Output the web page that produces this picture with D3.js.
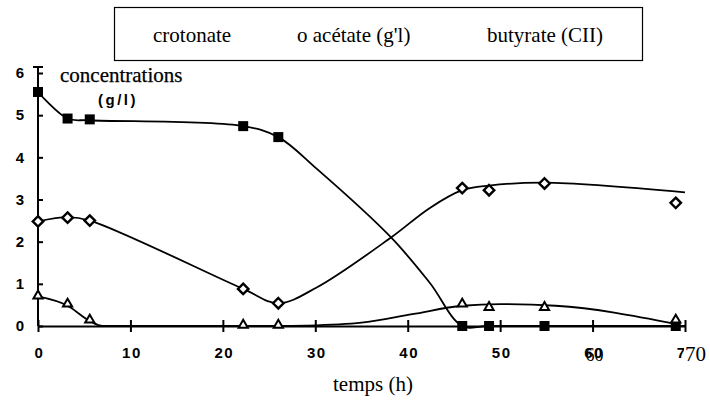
<!DOCTYPE html>
<html>
<head>
<meta charset="utf-8">
<script src="https://cdn.jsdelivr.net/npm/d3@7"></script>
<style>
  html, body { margin: 0; padding: 0; background: #fff; }
  svg { display: block; }
</style>
</head>
<body>
<svg id="chart" width="710" height="400"></svg>
<script>
// ---- data ----
const legendLabels = ["crotonate", "o acétate (g'l)", "butyrate (CII)"];
const xTicks = [0, 10, 20, 30, 40, 50, 60, 70];
const yTicks = [0, 1, 2, 3, 4, 5, 6];

const times = [0, 3.2, 5.6, 22.2, 26, 45.9, 48.8, 54.8, 69];
const crotonate = [5.55, 4.92, 4.9, 4.74, 4.48, 0, 0, 0, 0];
const acetate   = [2.48, 2.57, 2.5, 0.88, 0.54, 3.27, 3.22, 3.38, 2.92];
const butyrate  = [0.69, 0.5, 0.12, 0, 0, 0.5, 0.42, 0.42, 0.12];

// fitted curves drawn through the points (knots)
const crotonateFitX = [0, 3.2, 5.6, 22.2, 26, 30.2, 38.2, 42.4, 45.9, 48.8, 70];
const crotonateFitY = [5.55, 4.92, 4.88, 4.74, 4.48, 3.72, 2.1, 1.02, 0, 0, 0];
const acetateFitX = [0, 3.2, 5.6, 22.2, 26, 30.2, 38.2, 42.4, 45.9, 48.8, 54.8, 70];
const acetateFitY = [2.48, 2.58, 2.5, 0.88, 0.54, 0.92, 2.1, 2.8, 3.22, 3.33, 3.4, 3.17];
const butyrateFitX = [0, 3.2, 5.6, 7, 26, 29, 35, 40.5, 45.9, 50, 56, 69];
const butyrateFitY = [0.7, 0.48, 0.12, 0, 0, 0.01, 0.08, 0.28, 0.48, 0.52, 0.48, 0.05];

// ---- drawing ----
const svg = d3.select("#chart");
const x = d3.scaleLinear().domain([0, 70]).range([38, 685]);
const y = d3.scaleLinear().domain([0, 6]).range([326, 73]);
const serif = "Liberation Serif, Times New Roman, serif";
const sans = "Liberation Sans, Arial, sans-serif";

// legend box
svg.append("rect").attr("x", 114.5).attr("y", 7.5).attr("width", 528).attr("height", 53)
  .attr("fill", "#fff").attr("stroke", "#000").attr("stroke-width", 1.2);
const legX = [153, 297, 487];
legendLabels.forEach((t, i) => {
  svg.append("text").attr("x", legX[i]).attr("y", 42)
    .attr("font-family", serif).attr("font-size", 21).text(t);
});

// axes
const gx = svg.append("g").attr("transform", `translate(0,${y(0)})`)
  .call(d3.axisBottom(x).tickValues(xTicks).tickFormat(d3.format("d"))
    .tickSize(6).tickSizeOuter(0).tickPadding(15));
gx.select(".domain").attr("stroke-width", 2);
gx.selectAll(".tick line").attr("y1", -6).attr("stroke-width", 2);
gx.selectAll(".tick text").attr("font-family", sans)
  .attr("font-weight", "bold").attr("font-size", 15).attr("letter-spacing", 1.5).attr("dx", 1);

const gy = svg.append("g").attr("transform", `translate(${x(0)},0)`)
  .call(d3.axisLeft(y).tickValues(yTicks).tickFormat(d3.format("d"))
    .tickSize(5).tickSizeOuter(0).tickPadding(9));
gy.select(".domain").attr("stroke-width", 2).attr("d", `M0,${y(0)}V${y(6) - 6}`);
gy.selectAll(".tick line").attr("x2", 5).attr("stroke-width", 2);
gy.selectAll(".tick text").attr("font-family", sans)
  .attr("font-weight", "bold").attr("font-size", 15);
// cap at top of y axis
svg.append("line").attr("x1", x(0) - 5).attr("x2", x(0) + 5)
  .attr("y1", y(6) - 6).attr("y2", y(6) - 6).attr("stroke", "#000").attr("stroke-width", 2);

// fitted lines
const lineCR = d3.line().x(d => x(d[0])).y(d => y(d[1])).curve(d3.curveCatmullRom.alpha(0.5));
const lineMono = d3.line().x(d => x(d[0])).y(d => y(d[1])).curve(d3.curveMonotoneX);
const fits = [
  [crotonateFitX, crotonateFitY, lineCR],
  [acetateFitX, acetateFitY, lineCR],
  [butyrateFitX, butyrateFitY, lineMono]
];
fits.forEach(([xs, ys, gen]) => {
  svg.append("path").datum(xs.map((v, i) => [v, ys[i]]))
    .attr("d", gen).attr("fill", "none").attr("stroke", "#000").attr("stroke-width", 1.8);
});

// markers
svg.append("g").selectAll("rect").data(times.map((t, i) => [t, crotonate[i]])).join("rect")
  .attr("x", d => x(d[0]) - 5).attr("y", d => y(d[1]) - 5)
  .attr("width", 10).attr("height", 10).attr("fill", "#000");

const diamond = d3.symbol().type(d3.symbolDiamond2).size(70);
svg.append("g").selectAll("path").data(times.map((t, i) => [t, acetate[i]])).join("path")
  .attr("transform", d => `translate(${x(d[0])},${y(d[1])})`)
  .attr("d", diamond).attr("fill", "#fff").attr("stroke", "#000").attr("stroke-width", 2.4);

const tri = d3.symbol().type(d3.symbolTriangle2).size(60);
svg.append("g").selectAll("path").data(times.map((t, i) => [t, butyrate[i]])).join("path")
  .attr("transform", d => `translate(${x(d[0])},${y(d[1]) - 1})`)
  .attr("d", tri).attr("fill", "#fff").attr("stroke", "#000").attr("stroke-width", 2);

// overlaid labels
svg.append("text").attr("x", 60).attr("y", 82)
  .attr("font-family", serif).attr("font-size", 21)
  .attr("stroke", "#000").attr("stroke-width", 0.25)
  .text("concentrations");
svg.append("text").attr("x", 98).attr("y", 105)
  .attr("font-family", sans).attr("font-weight", "bold").attr("font-size", 15)
  .attr("letter-spacing", 2.5).text("(g/l)");

svg.append("text").attr("x", x(60) + 2).attr("y", 361).attr("text-anchor", "middle")
  .attr("font-family", serif).attr("font-size", 18).text("60");
svg.append("rect").attr("x", 684).attr("y", 343).attr("width", 26).attr("height", 20).attr("fill", "#fff");
svg.append("text").attr("x", 685).attr("y", 361)
  .attr("font-family", serif).attr("font-size", 21).text("70");

svg.append("text").attr("x", 333).attr("y", 391)
  .attr("font-family", serif).attr("font-size", 21).text("temps (h)");
</script>
</body>
</html>
